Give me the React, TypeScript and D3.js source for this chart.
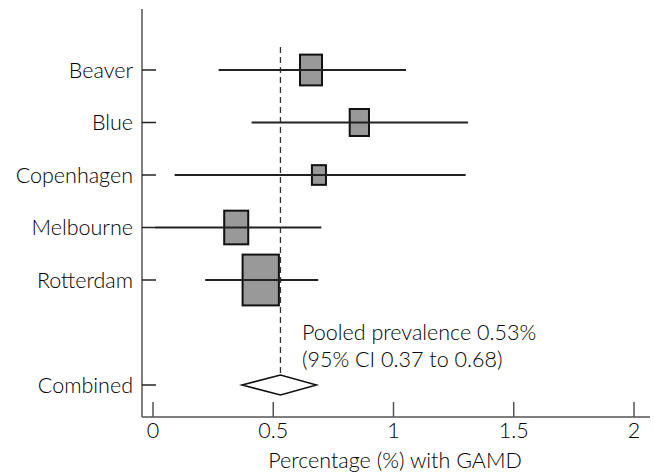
import React from 'react'
import * as d3 from 'd3'

// forest plot: prevalence of GAMD per study, with pooled estimate

const studies = ['Beaver', 'Blue', 'Copenhagen', 'Melbourne', 'Rotterdam']
const estimate = [0.657, 0.858, 0.69, 0.346, 0.448]
const lower = [0.273, 0.41, 0.09, 0.01, 0.217]
const upper = [1.052, 1.31, 1.30, 0.70, 0.687]
const weight = [16.4, 12.6, 6.7, 19.6, 44.7]

const pooled = 0.53
const pooledLow = 0.37
const pooledHigh = 0.68
const pooledLabel = 'Combined'
const noteLines = ['Pooled prevalence 0.53%', '(95% CI 0.37 to 0.68)']

const xTicks = [0, 0.5, 1, 1.5, 2]
const xTitle = 'Percentage (%) with GAMD'

const W = 655
const H = 475
const font = 'Lato, "Noto Sans", sans-serif'
const fs = 21.5

export default function App() {
  const x = d3.scaleLinear().domain([0, 2]).range([153, 634])
  const y = d3.scaleLinear().domain([0, 6]).range([70, 385])
  const size = d3.scaleSqrt().domain([0, 44.7]).range([0, 36.3])

  const axisX = 142
  const axisY = 417
  const topY = 9
  const combinedRow = 6

  const diamond = d3.line()([
    [x(pooledLow), y(combinedRow)],
    [x(pooled), y(combinedRow) - 10],
    [x(pooledHigh), y(combinedRow)],
    [x(pooled), y(combinedRow) + 10],
  ]) + 'Z'

  const rowLabels = [...studies.map((s, i) => ({label: s, row: i})), {label: pooledLabel, row: combinedRow}]

  return (
    <svg width={W} height={H} style={{position: 'absolute', left: 0, top: 0}} fontFamily={font} fontWeight={300}>
      <rect width={W} height={H} fill="#fff" />

      {/* reference line at pooled value */}
      <line x1={x(pooled)} x2={x(pooled)} y1={47} y2={y(combinedRow) - 10}
        stroke="#333" strokeWidth={1.3} strokeDasharray="6,4" />

      {/* axes */}
      <line x1={axisX} x2={650} y1={axisY} y2={axisY} stroke="#555" strokeWidth={1.5} />
      <line x1={axisX} x2={axisX} y1={topY} y2={axisY} stroke="#555" strokeWidth={1.5} />

      {xTicks.map(t => (
        <g key={t}>
          <line x1={x(t)} x2={x(t)} y1={axisY - 15} y2={axisY} stroke="#555" strokeWidth={1.5} />
          <text x={x(t)} y={438} textAnchor="middle" fontSize={fs} fill="#000">{t}</text>
        </g>
      ))}
      <text x={395} y={468} textAnchor="middle" fontSize={fs} fill="#000">{xTitle}</text>

      {rowLabels.map(r => (
        <g key={r.label}>
          <line x1={axisX} x2={156} y1={y(r.row)} y2={y(r.row)} stroke="#222" strokeWidth={1.5} />
          <text x={133} y={y(r.row) + 7.5} textAnchor="end" fontSize={fs} fill="#000">{r.label}</text>
        </g>
      ))}

      {/* study estimates */}
      {studies.map((s, i) => {
        const w = size(weight[i])
        const h = w * 1.4
        return (
          <g key={s}>
            <rect x={x(estimate[i]) - w / 2} y={y(i) - h / 2} width={w} height={h}
              fill="#999" stroke="#111" strokeWidth={2} />
            <line x1={x(lower[i])} x2={x(upper[i])} y1={y(i)} y2={y(i)} stroke="#222" strokeWidth={2} />
          </g>
        )
      })}

      <path d={diamond} fill="#fff" stroke="#111" strokeWidth={1.5} />

      {noteLines.map((t, i) => (
        <text key={t} x={302} y={340 + i * 26.5} fontSize={fs} fill="#000">{t}</text>
      ))}
    </svg>
  )
}
